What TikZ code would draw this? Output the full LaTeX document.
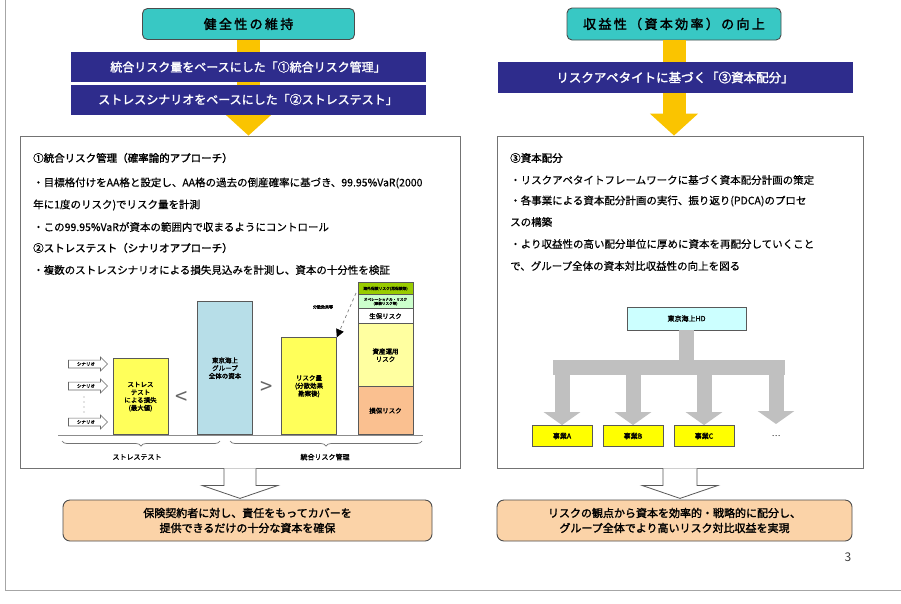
\documentclass[tikz,border=0pt]{standalone}
\usepackage{fontspec}
\setmainfont{Noto Sans CJK JP}[AutoFakeBold=1.8]
\newfontfamily\widefont{Noto Sans CJK JP}[LetterSpace=18, AutoFakeBold=2]
\newfontfamily\bodyfont{Noto Sans CJK JP}[FakeBold=0.5]
\usetikzlibrary{decorations.pathreplacing,arrows.meta,shapes.arrows,calc}
\definecolor{tealc}{RGB}{56,200,196}
\definecolor{bluec}{RGB}{46,44,140}
\definecolor{goldc}{RGB}{250,196,0}
\definecolor{ylw}{RGB}{255,255,90}
\definecolor{ylwl}{RGB}{255,255,160}
\definecolor{lblue}{RGB}{183,222,232}
\definecolor{orng}{RGB}{250,192,144}
\definecolor{orngl}{RGB}{251,211,168}
\definecolor{grn}{RGB}{153,204,0}
\definecolor{grnl}{RGB}{204,255,204}
\definecolor{cyanl}{RGB}{204,255,255}
\definecolor{yel}{RGB}{255,255,0}
\definecolor{grayc}{RGB}{192,192,192}
\tikzset{
  titlebox/.style={draw=black!70, fill=tealc, rounded corners=5pt, line width=0.9pt, font=\widefont\bfseries\fontsize{13}{15}\selectfont, inner sep=0},
  bluebar/.style={fill=bluec, text=white, font=\bfseries\fontsize{12}{14}\selectfont, inner sep=0, minimum width=355pt},
  panel/.style={draw=black!55, line width=0.8pt, fill=white, inner sep=0},
  ptext/.style={anchor=west, inner sep=0, font=\bodyfont\fontsize{10.5}{12}\selectfont},
  phead/.style={anchor=west, inner sep=0, font=\bfseries\fontsize{10.5}{12}\selectfont},
  barbox/.style={draw=black!65, line width=0.6pt, align=center, anchor=south, minimum width=55pt, inner sep=0, font=\bfseries\fontsize{6.5}{7.8}\selectfont},
  segbox/.style={draw=black!65, line width=0.6pt, align=center, anchor=south, minimum width=55pt, inner sep=0, font=\bfseries\fontsize{6.5}{7.8}\selectfont},
  scen/.style={single arrow, draw=black!60, fill=white, line width=0.6pt, minimum height=39pt, single arrow head extend=3pt, inner xsep=1pt, inner ysep=1.8pt, font=\bfseries\fontsize{4.5}{4.5}\selectfont},
  outcome/.style={draw=black!70, fill=orngl, rounded corners=7pt, line width=0.9pt, align=center, inner sep=0, font=\bfseries\fontsize{11}{15}\selectfont},
  goldarrow/.style={goldc, line width=23pt, -{Triangle[width=47pt,length=22pt]}},
  blockarrow/.style={draw=black!65, fill=white, line width=0.8pt},
  graycon/.style={grayc, line width=15pt},
  orgbox/.style={draw=black!65, line width=0.8pt, inner sep=0, font=\bfseries\fontsize{7}{8}\selectfont},
  cmp/.style={text=black!60, font=\fontsize{22}{22}\selectfont, inner sep=0},
  tiny/.style={inner sep=0, font=\bfseries\fontsize{4}{4.5}\selectfont, align=center},
  bracelab/.style={inner sep=0, font=\bfseries\fontsize{7}{8}\selectfont}
}
\begin{document}
\begin{tikzpicture}[x=1pt,y=-1pt]
\useasboundingbox (0,0) rectangle (901,603);
\fill[white] (0,0) rectangle (901,603);
\draw[black!35, line width=1pt] (5,0) -- (5,590) -- (901,590);

% ---------------- left column ----------------
\node[panel, minimum width=440pt, minimum height=332pt] (p1) at (240,302) {};
\node[titlebox, minimum width=212pt, minimum height=31pt] (t1) at (248.5,24) {健全性の維持};
\draw[goldarrow] (t1.south) -- (p1.north -| t1.south);
\node[bluebar, minimum height=30pt] (b1) at (248,67) {統合リスク量をベースにした「①統合リスク管理」};
\node[bluebar, minimum height=30pt] (b2) at (248,99.5) {ストレスシナリオをベースにした「②ストレステスト」};

\node[phead] (l1) at (33,158) {①統合リスク管理（確率論的アプローチ）};
\node[ptext] (l2) at (33,183) {・目標格付けをAA格と設定し、AA格の過去の倒産確率に基づき、99.95\%VaR(2000};
\node[ptext] (l3) at (33,205) {年に1度のリスク)でリスク量を計測};
\node[ptext] (l4) at (33,227) {・この99.95\%VaRが資本の範囲内で収まるようにコントロール};
\node[phead] (l5) at (33,248) {②ストレステスト（シナリオアプローチ）};
\node[ptext] (l6) at (33,270) {・複数のストレスシナリオによる損失見込みを計測し、資本の十分性を検証};

% chart
\draw[black!45, line width=1pt] (58,435) -- (423,435);
\node[scen] (s1) at (86,364) {シナリオ};
\node[scen] (s2) at (86,386) {シナリオ};
\node[scen] (s3) at (86,422) {シナリオ};
\foreach \yy in {397,402,407,412} \fill[black!45] (84,\yy) circle (0.7);
\node[barbox, fill=ylw, minimum height=76pt] (sb) at (140.5,435) {ストレス\\テスト\\による損失\\(最大値)};
\node[cmp] (lt) at (182,398) {<};
\node[barbox, fill=lblue, minimum height=133pt] (cb) at (225,435) {東京海上\\グループ\\全体の資本};
\node[cmp] (gt) at (267,388) {>};
\node[barbox, fill=ylw, minimum height=97pt] (rb) at (309,435) {リスク量\\(分散効果\\勘案後)};
\node[segbox, fill=orng, minimum height=48pt] (g1) at (385.5,435) {損保リスク};
\node[segbox, fill=ylwl, minimum height=63pt] (g2) at (385.5,387) {資産運用\\リスク};
\node[segbox, fill=white, minimum height=15pt] (g3) at (385.5,324) {生保リスク};
\node[segbox, fill=grnl, minimum height=14pt, font=\bfseries\fontsize{3.6}{4}\selectfont] (g4) at (385.5,309) {オペレーショナル・リスク\\(事務リスク等)};
\node[segbox, fill=grn, minimum height=12pt, font=\bfseries\fontsize{3.8}{4}\selectfont] (g5) at (385.5,295) {海外保険リスク(再保険等)};
\coordinate (dfrom) at (356,293);
\draw[black!50, dashed, line width=0.7pt, -{Triangle[black,width=8pt,length=8pt]}] (dfrom) -- (rb.north east);
\node[tiny] (dl) at (323,307) {分散効果等};
\draw[black!55, line width=0.7pt, decorate, decoration={brace, mirror, amplitude=5pt}] (62,441) -- (220,441);
\draw[black!55, line width=0.7pt, decorate, decoration={brace, mirror, amplitude=5pt}] (230,441) -- (422,441);
\node[bracelab] (bl1) at (137,457) {ストレステスト};
\node[bracelab] (bl2) at (325,457) {統合リスク管理};

% outcome left
\node[outcome, minimum width=369pt, minimum height=41pt] (o1) at (247.5,520.5) {保険契約者に対し、責任をもってカバーを\\提供できるだけの十分な資本を確保};
\draw[blockarrow] ($(p1.south)+(-16,0)$) -- ($(p1.south)+(-16,17)$) -- ($(p1.south)+(-38,17)$) -- ($(p1.south)+(0,30)$) -- ($(p1.south)+(38,17)$) -- ($(p1.south)+(16,17)$) -- ($(p1.south)+(16,0)$);

% ---------------- right column ----------------
\node[panel, minimum width=366pt, minimum height=332pt] (p2) at (680,302) {};
\node[titlebox, minimum width=214pt, minimum height=32pt] (t2) at (674,24) {収益性（資本効率）の向上};
\draw[goldarrow] (t2.south) -- (p2.north -| t2.south);
\node[bluebar, minimum height=31pt, font=\bfseries\fontsize{12.5}{14}\selectfont] (b3) at (675,77.5) {リスクアペタイトに基づく「③資本配分」};

\node[phead] (r1) at (510,158) {③資本配分};
\node[ptext] (r2) at (510,180) {・リスクアペタイトフレームワークに基づく資本配分計画の策定};
\node[ptext] (r3) at (510,201) {・各事業による資本配分計画の実行、振り返り(PDCA)のプロセ};
\node[ptext] (r4) at (510,222) {スの構築};
\node[ptext] (r5) at (510,244) {・より収益性の高い配分単位に厚めに資本を再配分していくこと};
\node[ptext] (r6) at (510,266) {で、グループ全体の資本対比収益性の向上を図る};

% org chart
\node[orgbox, fill=cyanl, minimum width=119pt, minimum height=23pt] (hd) at (686.5,318.5) {東京海上HD};
\node[orgbox, fill=yel, minimum width=60pt, minimum height=21pt] (ba) at (562,436) {事業A};
\node[orgbox, fill=yel, minimum width=60pt, minimum height=21pt] (bb) at (633,436) {事業B};
\node[orgbox, fill=yel, minimum width=60pt, minimum height=21pt] (bc) at (704,436) {事業C};
\node[inner sep=0, font=\fontsize{8}{8}\selectfont] (bd) at (776,436) {…};
\coordinate (barl) at (553,367.5);
\coordinate (barr) at (785,367.5);
\coordinate (dtip) at (776,424);
\draw[graycon] (hd.south) -- (hd.south |- barl);
\draw[graycon] (barl) -- (barr);
\foreach \t in {ba.north, bb.north, bc.north, dtip}
  \draw[graycon, -{Triangle[width=36pt,length=13pt]}] (\t |- barl) -- (\t);

% outcome right
\node[outcome, minimum width=355pt, minimum height=41pt] (o2) at (674.5,520.5) {リスクの観点から資本を効率的・戦略的に配分し、\\グループ全体でより高いリスク対比収益を実現};
\draw[blockarrow] ($(p2.south)+(-17,0)$) -- ($(p2.south)+(-17,17)$) -- ($(p2.south)+(-38,17)$) -- ($(p2.south)+(0,30)$) -- ($(p2.south)+(38,17)$) -- ($(p2.south)+(17,17)$) -- ($(p2.south)+(17,0)$);

\node[inner sep=0, text=black!75, font=\fontsize{12}{12}\selectfont] (pg) at (848,557) {3};
\end{tikzpicture}
\end{document}
